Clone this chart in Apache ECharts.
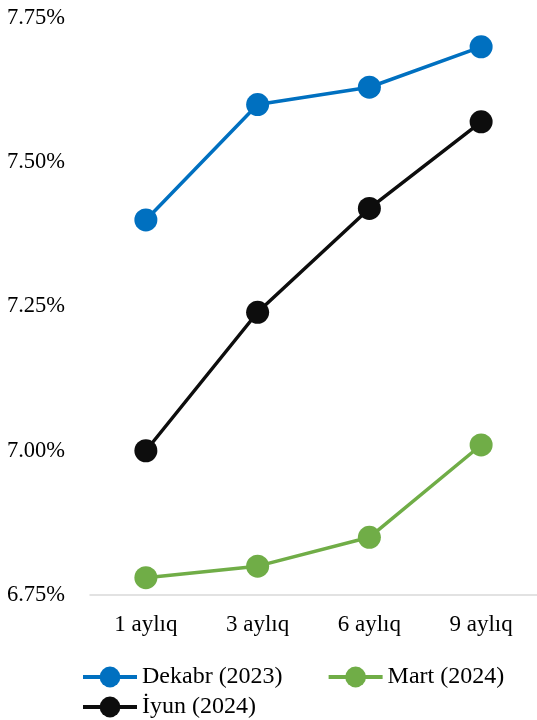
<!DOCTYPE html>
<html>
<head>
<meta charset="utf-8">
<script src="https://cdn.jsdelivr.net/npm/echarts@6/dist/echarts.min.js"></script>
<style>html,body{margin:0;padding:0;background:#fff;}#c{width:537px;height:720px;}</style>
</head>
<body>
<div id="c"></div>
<script>
var categories = ['1 aylıq', '3 aylıq', '6 aylıq', '9 aylıq'];
var dekabr2023 = [7.40, 7.60, 7.63, 7.70];
var mart2024 = [6.78, 6.80, 6.85, 7.01];
var iyun2024 = [7.00, 7.24, 7.42, 7.57];
var seriesNames = ['Dekabr (2023)', 'Mart (2024)', 'İyun (2024)'];

var font = '"Liberation Serif", "Times New Roman", serif';
var chart = echarts.init(document.getElementById('c'));
function mk(name, data, color) {
  return {
    name: name, type: 'line', data: data,
    symbol: 'circle', symbolSize: 23,
    lineStyle: {color: color, width: 3.5},
    itemStyle: {color: color},
    emphasis: {disabled: true},
    animation: false
  };
}
var legendCommon = {
  itemWidth: 54, itemHeight: 26, itemGap: 44, padding: 0,
  lineStyle: {width: 4},
  textStyle: {fontFamily: font, fontSize: 24, color: '#000'},
  selectedMode: false
};
chart.setOption({
  animation: false,
  grid: {left: 90, right: -3, top: 18, bottom: 125},
  xAxis: {
    type: 'category', data: categories,
    axisLine: {lineStyle: {color: '#d9d9d9', width: 1.5}},
    axisTick: {show: false},
    axisLabel: {fontFamily: font, fontSize: 23, color: '#000', margin: 18}
  },
  yAxis: {
    type: 'value', min: 6.75, max: 7.75, interval: 0.25,
    axisLine: {show: false}, axisTick: {show: false},
    splitLine: {show: false},
    axisLabel: {fontFamily: font, fontSize: 22.5, color: '#000', margin: 25,
      formatter: function (v) { return v.toFixed(2) + '%'; }}
  },
  legend: [
    Object.assign({left: 81, top: 665, data: [seriesNames[0], seriesNames[1]]}, legendCommon),
    Object.assign({left: 81, top: 695, data: [seriesNames[2]]}, legendCommon)
  ],
  series: [
    mk(seriesNames[0], dekabr2023, '#0070C0'),
    mk(seriesNames[1], mart2024, '#70AD47'),
    mk(seriesNames[2], iyun2024, '#0D0D0D')
  ]
});
</script>
</body>
</html>
